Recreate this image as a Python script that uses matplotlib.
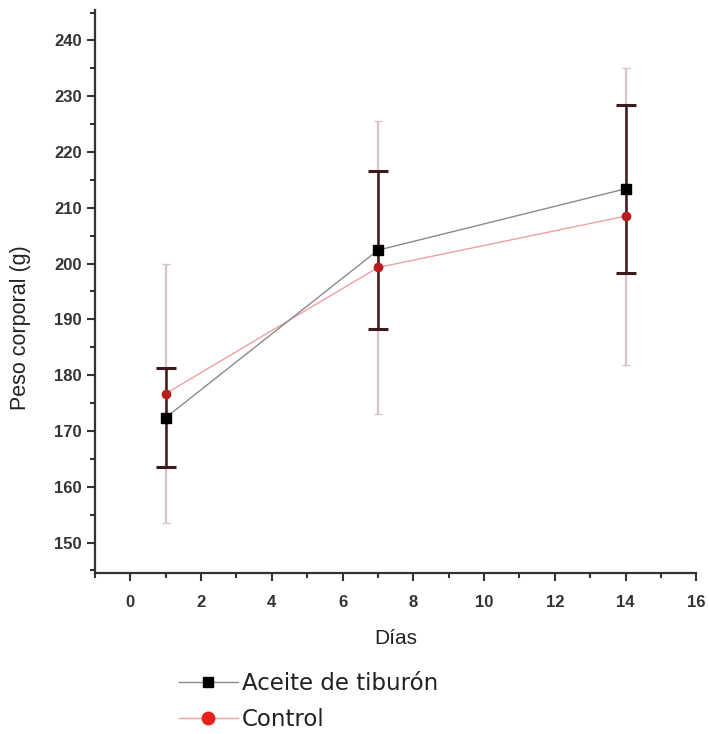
import matplotlib
matplotlib.use("Agg")
import matplotlib.pyplot as plt
from matplotlib.ticker import MultipleLocator
from matplotlib.lines import Line2D

days = [1, 7, 14]
aceite_mean = [172.4, 202.4, 213.4]
aceite_sd = [8.9, 14.2, 15.0]
control_mean = [176.7, 199.3, 208.5]
control_sd = [23.2, 26.3, 26.6]
series_names = ["Aceite de tiburón", "Control"]

fig = plt.figure(figsize=(7.09, 7.34), dpi=100)
ax = fig.add_axes([0.134, 0.219, 0.848, 0.767])

# Control series (drawn first, underneath)
ax.errorbar(days, control_mean, yerr=control_sd, fmt='none',
            ecolor='#d9c4c4', elinewidth=1.6, capsize=3, capthick=1.0, zorder=2)
ax.plot(days, control_mean, color='#f0a0a0', lw=1.0, zorder=3)
ax.plot(days, control_mean, 'o', color='#b81c1c', ms=6, mec='#b81c1c', zorder=5)

# Aceite de tiburón series
ax.errorbar(days, aceite_mean, yerr=aceite_sd, fmt='none',
            ecolor='#3a1a1a', elinewidth=1.8, capsize=7, capthick=2.2, zorder=4)
ax.plot(days, aceite_mean, color='#8a8a8a', lw=1.0, zorder=3)
ax.plot(days, aceite_mean, 's', color='black', ms=6.5, zorder=6)

ax.set_xlim(-1, 16)
ax.set_ylim(144.5, 245.4)
ax.xaxis.set_major_locator(MultipleLocator(2))
ax.xaxis.set_minor_locator(MultipleLocator(1))
ax.yaxis.set_minor_locator(MultipleLocator(5))
ax.set_yticks(range(150, 241, 10))

for s in ['top', 'right']:
    ax.spines[s].set_visible(False)
for s in ['left', 'bottom']:
    ax.spines[s].set_linewidth(1.6)
    ax.spines[s].set_color('#333333')

ax.tick_params(axis='both', which='major', direction='out', length=6, width=1.5,
               colors='#333333', labelcolor='#222222')
ax.tick_params(axis='both', which='minor', direction='out', length=3.5, width=1.5,
               colors='#333333')
for lab in ax.get_xticklabels() + ax.get_yticklabels():
    lab.set_fontfamily(['Liberation Sans', 'DejaVu Sans'])
    lab.set_fontsize(12)
    lab.set_fontweight('bold')
    lab.set_color('#333333')
ax.tick_params(axis='x', pad=10)

ax.set_ylabel("Peso corporal (g)", fontsize=15.5, family=['Liberation Sans', 'DejaVu Sans'],
              color='#222222')
ax.yaxis.set_label_coords(-0.106, 0.437)
ax.set_xlabel("Días", fontsize=15, family=['Liberation Sans', 'DejaVu Sans'],
              color='#222222', labelpad=13)

handles = [
    Line2D([], [], color='#8a8a8a', lw=1.0, marker='s', ms=7, mfc='black', mec='black'),
    Line2D([], [], color='#f0a0a0', lw=1.0, marker='o', ms=9, mfc='#e8231e', mec='#e8231e'),
]
leg = fig.legend(handles, series_names, loc='center left',
                 bbox_to_anchor=(0.252, 0.044), bbox_transform=fig.transFigure,
                 frameon=False, handlelength=2.6, handletextpad=0.15,
                 labelspacing=0.55, borderaxespad=0, borderpad=0,
                 prop={'family': ['DejaVu Sans'], 'size': 16.5})
for t in leg.get_texts():
    t.set_color('#222222')

fig.savefig("out.png", dpi=100)
